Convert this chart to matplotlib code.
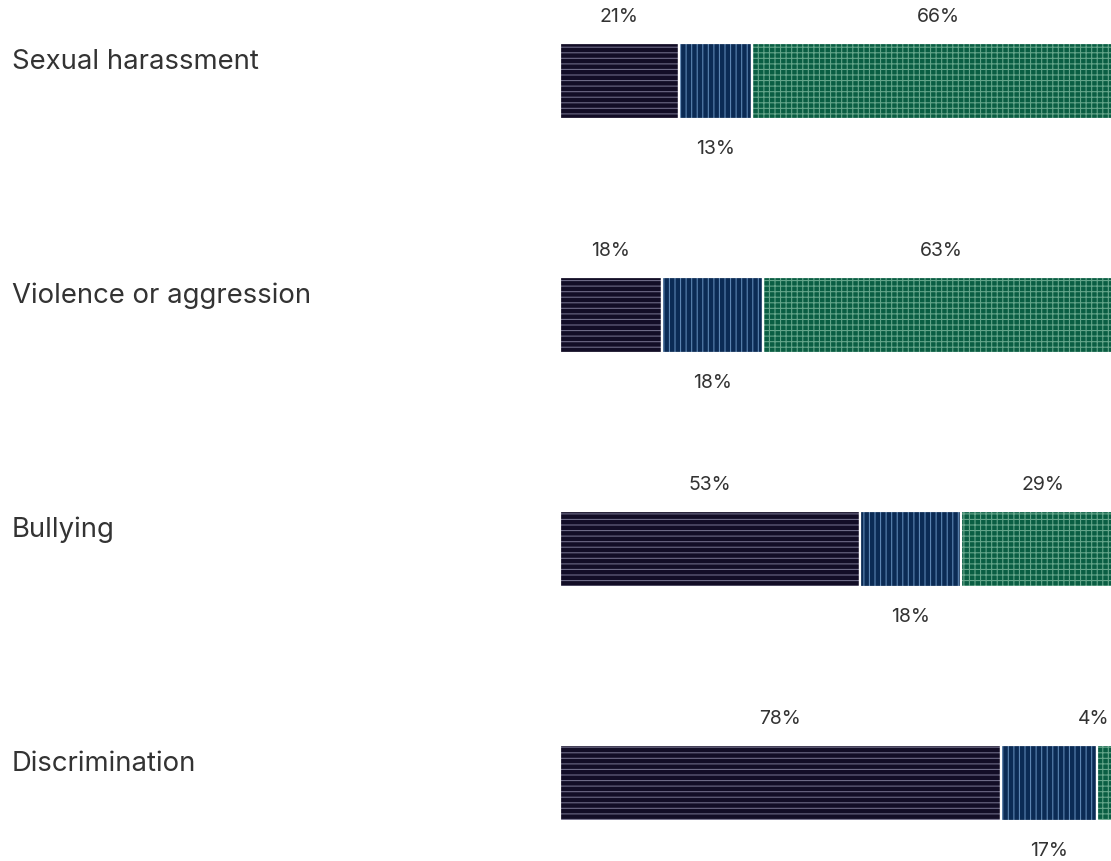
import numpy as np
import matplotlib.pyplot as plt
from matplotlib import transforms

categories = ['Sexual harassment', 'Violence or aggression', 'Bullying', 'Discrimination']
seg1 = [21, 18, 53, 78]
seg2 = [13, 18, 18, 17]
seg3 = [66, 63, 29, 4]

plt.rcParams['font.family'] = ['Inter', 'DejaVu Sans']
plt.rcParams['hatch.linewidth'] = 0.8

fig = plt.figure(figsize=(11.11, 8.62), dpi=100)
ax = fig.add_axes([560 / 1111, 0, 551 / 1111, 1])

y = np.arange(len(categories))
h = 0.322
styles = [
    ('#120d26', '#6d6a86', '---'),
    ('#0b2b55', '#5d86b3', '|||'),
    ('#0a5e43', '#64a58a', '+++'),
]
left = np.zeros(len(categories))
for vals, (fc, hc, hatch) in zip([seg1, seg2, seg3], styles):
    vals = np.array(vals, dtype=float)
    ax.barh(y, vals, left=left, height=h, color=fc, edgecolor=hc,
            hatch=hatch, linewidth=0)
    ax.barh(y, vals, left=left, height=h, color='none', edgecolor='white',
            linewidth=1.6)
    left += vals

ax.set_xlim(0, 97.5)
ax.set_ylim(3.333, -0.35)
ax.axis('off')

txt_color = '#333333'
for i in range(len(categories)):
    c1 = seg1[i] / 2
    c2 = seg1[i] + seg2[i] / 2
    c3 = min(seg1[i] + seg2[i] + seg3[i] / 2, 94.5)
    ax.annotate(f'{seg1[i]}%', (c1, i), xytext=(0, 47), textcoords='offset points',
                ha='center', va='center', fontsize=14, color=txt_color)
    ax.annotate(f'{seg3[i]}%', (c3, i), xytext=(0, 47), textcoords='offset points',
                ha='center', va='center', fontsize=14, color=txt_color)
    ax.annotate(f'{seg2[i]}%', (c2, i), xytext=(0, -48), textcoords='offset points',
                ha='center', va='center', fontsize=14, color=txt_color)

trans = transforms.blended_transform_factory(fig.transFigure, ax.transData)
for i, cat in enumerate(categories):
    ax.text(12 / 1111, i - 20 / 234, cat, transform=trans, ha='left', va='center',
            fontsize=19.8, color=txt_color)

fig.savefig('out.png', dpi=100)
